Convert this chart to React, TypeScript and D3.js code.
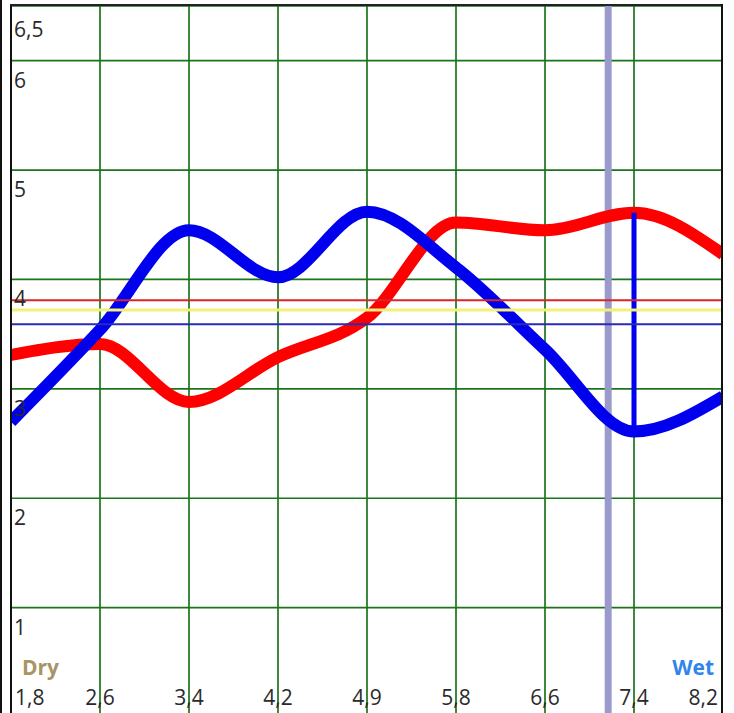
import React from "react";
import * as d3 from "d3";

const categories = ["1,8", "2,6", "3,4", "4,2", "4,9", "5,8", "6,6", "7,4", "8,2"];
const redSeries = [3.31, 3.41, 2.88, 3.29, 3.65, 4.52, 4.45, 4.61, 4.23];
const blueSeries = [2.70, 3.54, 4.45, 4.02, 4.62, 4.11, 3.36, 2.61, 2.93];
const yTicks = [6.5, 6, 5, 4, 3, 2, 1];
const refLines = [
  { value: 3.81, color: "#d8262a", width: 2 },
  { value: 3.72, color: "#f4ef78", width: 3 },
  { value: 3.59, color: "#2a2ab8", width: 2 },
];
const markerIndex = 6.71; // purple vertical marker, in category-index units
const jumpIndex = 7; // blue vertical connector at "7,4"

const W = 734;
const H = 713;
const L = 12;
const R = 721;
const T = 6;

export default function App() {
  const xIdx = d3.scaleLinear().domain([0, categories.length - 1]).range([11, 723]);
  const x = d3.scalePoint<string>().domain(categories).range([11, 723]);
  const y = d3.scaleLinear().domain([0, 6.5]).range([717, 6]);

  const line = d3
    .line<number>()
    .x((_, i) => x(categories[i]) as number)
    .y((d) => y(d))
    .curve(d3.curveMonotoneX);

  const font = "'Open Sans', 'Noto Sans', sans-serif";

  return (
    <svg
      width={W}
      height={H}
      style={{ position: "absolute", left: 0, top: 0, background: "#fff" }}
    >
      <defs>
        <clipPath id="plot">
          <rect x={L} y={T} width={R - L} height={H - T} />
        </clipPath>
      </defs>
      <rect x={0} y={0} width={W} height={H} fill="#fff" />
      <g clipPath="url(#plot)">
        {yTicks.map((v) => (
          <line key={"gy" + v} x1={L} x2={R} y1={y(v)} y2={y(v)} stroke="#1a741a" strokeWidth={1.7} />
        ))}
        {categories.map((c) => (
          <line key={"gx" + c} x1={x(c)} x2={x(c)} y1={T} y2={H} stroke="#1a741a" strokeWidth={1.7} />
        ))}
        <line x1={xIdx(markerIndex)} x2={xIdx(markerIndex)} y1={T} y2={H} stroke="#9a9acd" strokeWidth={7} />
        <path d={line(redSeries) || ""} fill="none" stroke="#ff0000" strokeWidth={12} strokeLinejoin="round" />
        <path d={line(blueSeries) || ""} fill="none" stroke="#0000ee" strokeWidth={12} strokeLinejoin="round" />
        <line
          x1={x(categories[jumpIndex])}
          x2={x(categories[jumpIndex])}
          y1={y(redSeries[jumpIndex])}
          y2={y(blueSeries[jumpIndex])}
          stroke="#0000ee"
          strokeWidth={5}
        />
        {refLines.map((r) => (
          <line key={"r" + r.value} x1={L} x2={R} y1={y(r.value)} y2={y(r.value)} stroke={r.color} strokeWidth={r.width} />
        ))}
        {yTicks.map((v) => (
          <text key={"ly" + v} x={14} y={Math.max(y(v) + 27, 37)} fontFamily={font} fontSize={21} fill="#2a2a2a">
            {String(v).replace(".", ",")}
          </text>
        ))}
        {categories.map((c, i) => {
          const first = i === 0;
          const last = i === categories.length - 1;
          return (
            <text
              key={"lx" + c}
              x={first ? 15 : last ? 718 : (x(c) as number)}
              y={705}
              textAnchor={first ? "start" : last ? "end" : "middle"}
              fontFamily={font}
              fontSize={21}
              fill="#2a2a2a"
            >
              {c}
            </text>
          );
        })}
        <text x={22} y={675} fontFamily={font} fontSize={21} fontWeight="bold" fill="#a89466">
          Dry
        </text>
        <text x={714} y={675} textAnchor="end" fontFamily={font} fontSize={21} fontWeight="bold" fill="#2f86ea">
          Wet
        </text>
      </g>
      <line x1={1} x2={1} y1={0} y2={H} stroke="#111" strokeWidth={2} />
      <line x1={11} x2={11} y1={4} y2={H} stroke="#111" strokeWidth={2} />
      <line x1={10} x2={723} y1={5} y2={5} stroke="#222" strokeWidth={2} />
      <line x1={722} x2={722} y1={4} y2={H} stroke="#111" strokeWidth={2} />
    </svg>
  );
}
